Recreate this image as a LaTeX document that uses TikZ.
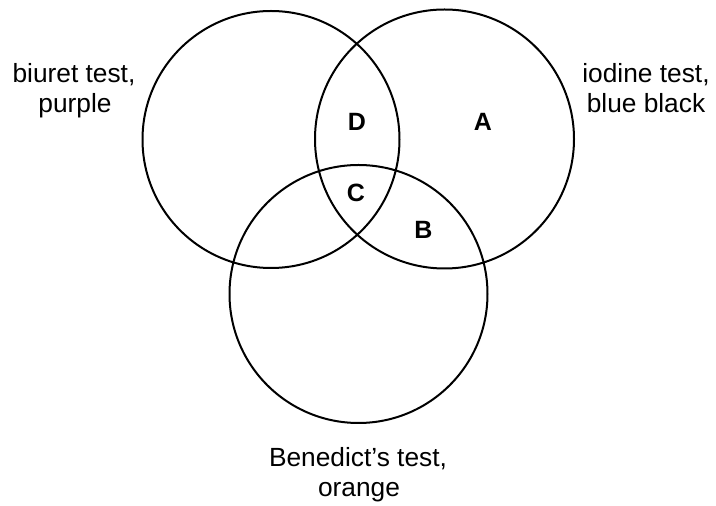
\documentclass[tikz,border=0pt]{standalone}
\usepackage{fontspec}
\setmainfont{Liberation Sans}
\begin{document}
\begin{tikzpicture}[x=1pt,y=1pt,
  ring/.style={draw=black,line width=2pt},
  lbl/.style={font=\fontsize{26.3}{30}\selectfont,anchor=base,inner sep=0pt},
  reg/.style={font=\fontsize{25}{30}\selectfont\bfseries,anchor=base,inner sep=0pt}]
\useasboundingbox (0,0) rectangle (716,506);
\fill[white] (0,0) rectangle (716,506);
\node[ring,circle,minimum size=257pt,inner sep=0pt] (biuret) at (271,366.5) {};
\node[ring,circle,minimum size=259pt,inner sep=0pt] (iodine) at (444.5,367) {};
\node[ring,circle,minimum size=258pt,inner sep=0pt] (bened) at (358.5,212) {};
\node[lbl] (l1a) at (74,423) {biuret test,};
\node[lbl] (l1b) at (75,393) {purple};
\node[lbl] (l2a) at (646,423) {iodine test,};
\node[lbl] (l2b) at (646,393) {blue black};
\node[lbl] (l3a) at (358,39) {Benedict’s test,};
\node[lbl] (l3b) at (359,9) {orange};
\node[reg] (D) at (357,375) {D};
\node[reg] (A) at (483,375) {A};
\node[reg] (C) at (356,304) {C};
\node[reg] (B) at (423.5,267) {B};
\end{tikzpicture}
\end{document}
